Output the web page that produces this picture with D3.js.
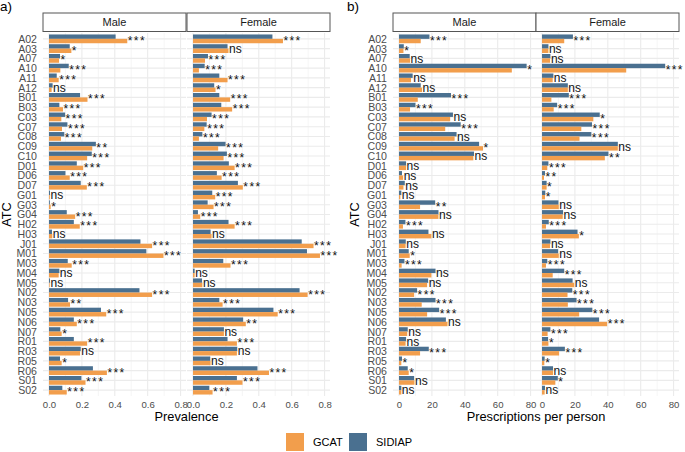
<!DOCTYPE html>
<html>
<head>
<meta charset="utf-8">
<script src="https://cdn.jsdelivr.net/npm/d3@7"></script>
<style>
  body { margin: 0; background: #fff; }
  text { font-family: "Liberation Sans", Arial, sans-serif; }
</style>
</head>
<body>
<svg id="chart" width="685" height="452"></svg>
<script>
// ATC groups, top to bottom
const atc = ["A02","A03","A07","A10","A11","A12","B01","B03","C03","C07","C08","C09","C10","D01","D06","D07","G01","G03","G04","H02","H03","J01","M01","M03","M04","M05","N02","N03","N05","N06","N07","R01","R03","R05","R06","S01","S02"];
const sexes = ["Male", "Female"];
const sources = ["GCAT", "SIDIAP"];

// a) prevalence
const prevMaleSidiap = [0.405,0.126,0.067,0.12,0.047,0.022,0.189,0.063,0.098,0.112,0.093,0.285,0.26,0.169,0.1,0.193,0.006,0.005,0.108,0.151,0.018,0.556,0.592,0.114,0.063,0.006,0.55,0.116,0.316,0.151,0.069,0.151,0.193,0.067,0.267,0.197,0.081];
const prevMaleGcat = [0.476,0.136,0.061,0.069,0.059,0.016,0.234,0.085,0.075,0.079,0.073,0.263,0.232,0.208,0.126,0.23,0.005,0.01,0.159,0.187,0.02,0.627,0.696,0.138,0.059,0.004,0.627,0.128,0.348,0.169,0.077,0.232,0.189,0.077,0.352,0.222,0.108];
const prevMaleSig = ["***","*","*","***","***","ns","***","***","***","***","***","**","***","***","***","***","ns","*","***","***","ns","***","***","***","ns","ns","***","**","***","***","*","***","ns","*","***","***","***"];
const prevFemaleSidiap = [0.483,0.21,0.091,0.071,0.16,0.129,0.16,0.172,0.113,0.083,0.057,0.198,0.206,0.218,0.145,0.273,0.117,0.089,0.03,0.216,0.107,0.661,0.693,0.184,0.01,0.055,0.648,0.16,0.489,0.305,0.188,0.21,0.269,0.105,0.392,0.267,0.099];
const prevFemaleGcat = [0.547,0.216,0.073,0.036,0.21,0.137,0.226,0.238,0.085,0.069,0.036,0.153,0.186,0.253,0.174,0.303,0.135,0.125,0.044,0.253,0.113,0.733,0.772,0.228,0.01,0.057,0.697,0.18,0.515,0.321,0.188,0.267,0.267,0.107,0.462,0.301,0.119];
const prevFemaleSig = ["***","ns","***","***","***","*","***","***","***","***","***","***","***","***","***","***","***","***","***","***","ns","***","***","***","ns","ns","***","***","***","**","ns","***","ns","ns","***","***","***"];

// b) prescriptions per person
const rxMaleSidiap = [18.5,2.9,6.5,77.6,8.3,13.2,31.6,10,32.8,37.5,35,48.7,45.6,4.3,1.8,3.5,1.4,22,24,3.9,17.9,4.1,5.9,3.3,22.2,17.7,11,22.2,24.4,28.5,5.3,4.3,18.1,1.8,5.3,9.2,1.4];
const rxMaleGcat = [13.2,2.7,6.7,68.6,7.3,14,11.4,6.7,31.1,28.1,33.8,51.1,45.2,4.3,2.5,2.7,0.8,12.8,24,2.4,19.7,4,6.5,1.6,19.7,17.1,9.2,13.8,17.1,29.5,5,4,12.8,1.4,5.9,9.4,1.4];
const rxMaleSig = ["***","*","ns","*","ns","ns","***","***","ns","***","ns","*","ns","ns","ns","ns","ns","**","ns","***","ns","ns","*","***","ns","ns","***","***","***","ns","ns","ns","***","*","*","ns","ns"];
const rxFemaleSidiap = [18.8,3.9,5.1,74.9,6.9,15.7,16.3,9.2,35.1,30.4,30,46.1,40.4,3.9,1.8,2.8,2,10,12.8,4.1,21.6,5.1,9.8,3.2,13.5,18.6,18.4,21,30.6,34.7,5.1,3.7,13.9,1.6,6.7,9.6,1.8];
const rxFemaleGcat = [13.5,3.9,4.9,51.2,6.5,15.7,5.7,7.1,31.2,23.9,22.8,46.1,38.2,3.2,1.2,2.8,1.8,10.2,12.6,2.4,22.4,4.9,10.2,2.4,6.5,19.6,15.5,15.7,22.6,39.6,3.4,3.9,10.4,1.4,6.7,8.1,1.6];
const rxFemaleSig = ["***","ns","ns","***","ns","ns","***","***","*","***","***","ns","**","***","**","*","*","ns","ns","***","*","ns","ns","***","***","ns","***","***","***","***","***","*","***","*","ns","*","ns"];

const prevTicks = [0, 0.2, 0.4, 0.6, 0.8];
const rxTicks = [0, 20, 40, 60, 80];

const color = { GCAT: "#F29E4C", SIDIAP: "#4A7090" };

const svg = d3.select("#chart");
const panelTop = 33, panelBottom = 396, stripTop = 13;

const y = d3.scalePoint().domain(atc).range([panelTop, panelBottom]).padding(0.6);
const step = y.step();
const barH = step * 0.45;

const plots = [
  { tag: "a)", tagX: 0, atcX: 10.5, title: "Prevalence", ticks: prevTicks, fmt: d3.format(".1f"),
    domain: [-0.0365, 0.833],
    panels: [
      { sex: "Male", x0: 43, x1: 186, gcat: prevMaleGcat, sidiap: prevMaleSidiap, sig: prevMaleSig },
      { sex: "Female", x0: 187, x1: 330, gcat: prevFemaleGcat, sidiap: prevFemaleSidiap, sig: prevFemaleSig }
    ] },
  { tag: "b)", tagX: 347, atcX: 359, title: "Prescriptions per person", ticks: rxTicks, fmt: d3.format("d"),
    domain: [-3.66, 83.3],
    panels: [
      { sex: "Male", x0: 393, x1: 536, gcat: rxMaleGcat, sidiap: rxMaleSidiap, sig: rxMaleSig },
      { sex: "Female", x0: 536, x1: 679, gcat: rxFemaleGcat, sidiap: rxFemaleSidiap, sig: rxFemaleSig }
    ] }
];

plots.forEach(plot => {
  const minor = plot.ticks.slice(0, -1).map((t, i) => (t + plot.ticks[i + 1]) / 2);

  plot.panels.forEach((p, pi) => {
    const x = d3.scaleLinear().domain(plot.domain).range([p.x0, p.x1]);
    const g = svg.append("g");

    // grid
    g.selectAll(".minor").data(minor).enter().append("line")
      .attr("x1", d => x(d)).attr("x2", d => x(d))
      .attr("y1", panelTop).attr("y2", panelBottom)
      .attr("stroke", "#F0F0F0").attr("stroke-width", 0.7);
    g.selectAll(".major").data(plot.ticks).enter().append("line")
      .attr("x1", d => x(d)).attr("x2", d => x(d))
      .attr("y1", panelTop).attr("y2", panelBottom)
      .attr("stroke", "#EBEBEB").attr("stroke-width", 1.1);
    g.selectAll(".hgrid").data(atc).enter().append("line")
      .attr("x1", p.x0).attr("x2", p.x1)
      .attr("y1", d => y(d)).attr("y2", d => y(d))
      .attr("stroke", "#EBEBEB").attr("stroke-width", 1.1);

    // bars: SIDIAP on top, GCAT below
    const rows = atc.map((c, i) => ({ c, gcat: p.gcat[i], sidiap: p.sidiap[i], sig: p.sig[i] }));
    g.selectAll(".bs").data(rows).enter().append("rect")
      .attr("x", x(0)).attr("y", d => y(d.c) - barH)
      .attr("width", d => x(d.sidiap) - x(0)).attr("height", barH)
      .attr("fill", color.SIDIAP);
    g.selectAll(".bg").data(rows).enter().append("rect")
      .attr("x", x(0)).attr("y", d => y(d.c))
      .attr("width", d => x(d.gcat) - x(0)).attr("height", barH)
      .attr("fill", color.GCAT);

    // significance
    g.selectAll(".sig").data(rows).enter().append("text")
      .attr("x", d => x(Math.max(d.gcat, d.sidiap)) + 0.5)
      .attr("y", d => y(d.c))
      .attr("dy", d => d.sig === "ns" ? "0.36em" : "0.5em")
      .attr("font-size", 12)
      .attr("letter-spacing", d => d.sig === "ns" ? 0 : 1.4)
      .attr("fill", "#111")
      .text(d => d.sig);

    // strip
    g.append("rect").attr("x", p.x0).attr("y", stripTop)
      .attr("width", p.x1 - p.x0).attr("height", panelTop - stripTop - 1.5)
      .attr("fill", "#fff").attr("stroke", "#555").attr("stroke-width", 1);
    g.append("text").attr("x", (p.x0 + p.x1) / 2).attr("y", (stripTop + panelTop - 1.5) / 2)
      .attr("dy", "0.35em").attr("text-anchor", "middle")
      .attr("font-size", 11).attr("fill", "#1A1A1A").text(p.sex);

    // x axis
    const ax = svg.append("g").attr("transform", `translate(0,${panelBottom})`)
      .call(d3.axisBottom(x).tickValues(plot.ticks).tickFormat(plot.fmt).tickSize(0).tickPadding(5));
    ax.select(".domain").remove();
    ax.selectAll("text").attr("font-size", 9.6).attr("fill", "#4D4D4D")
      .style("font-family", '"Liberation Sans", Arial, sans-serif');

    // y axis on first panel only
    if (pi === 0) {
      const ay = svg.append("g").attr("transform", `translate(${p.x0},0)`)
        .call(d3.axisLeft(y).tickSize(0).tickPadding(6));
      ay.select(".domain").remove();
      ay.selectAll("text").attr("font-size", 10.6).attr("fill", "#4D4D4D")
        .style("font-family", '"Liberation Sans", Arial, sans-serif');
    }
  });

  const xl = plot.panels[0].x0, xr = plot.panels[1].x1;
  svg.append("text").attr("x", (xl + xr) / 2).attr("y", 421)
    .attr("text-anchor", "middle").attr("font-size", 12.8).attr("fill", "#000")
    .text(plot.title);
  svg.append("text").attr("transform", `translate(${plot.atcX},${(panelTop + panelBottom) / 2}) rotate(-90)`)
    .attr("text-anchor", "middle").attr("font-size", 12.8).attr("fill", "#000")
    .text("ATC");
  svg.append("text").attr("x", plot.tagX).attr("y", 11)
    .attr("font-size", 13.5).attr("fill", "#000").text(plot.tag);
});

// legend
const lx = [286, 349];
sources.forEach((s, i) => {
  svg.append("rect").attr("x", lx[i]).attr("y", 433).attr("width", 18).attr("height", 18)
    .attr("fill", color[s]);
  svg.append("text").attr("x", lx[i] + 27).attr("y", 442).attr("dy", "0.35em")
    .attr("font-size", 11).attr("fill", "#000").text(s);
});
</script>
</body>
</html>
